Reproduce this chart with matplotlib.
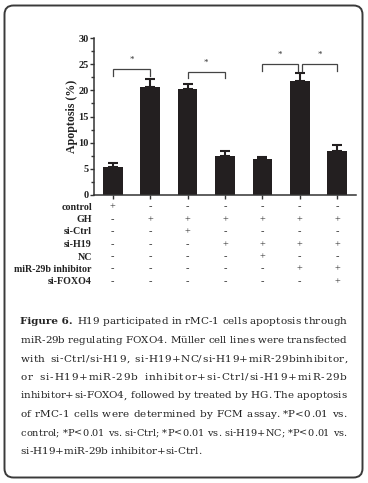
import matplotlib
matplotlib.use("Agg")
import matplotlib.pyplot as plt
from matplotlib.patches import FancyBboxPatch
from matplotlib.transforms import blended_transform_factory
from matplotlib.ticker import MultipleLocator

# ---- data ----
groups = list(range(7))
apoptosis = [5.4, 20.7, 20.3, 7.45, 6.8, 21.7, 8.4]
errors = [0.8, 1.5, 1.0, 0.9, 0.45, 1.7, 1.15]

row_labels = ["control", "GH", "si-Ctrl", "si-H19", "NC", "miR-29b inhibitor", "si-FOXO4"]
control = ["+", "-", "-", "-", "-", "-", "-"]
gh = ["-", "+", "+", "+", "+", "+", "+"]
si_ctrl = ["-", "-", "+", "-", "-", "-", "-"]
si_h19 = ["-", "-", "-", "+", "+", "+", "+"]
nc = ["-", "-", "-", "-", "+", "-", "-"]
mir_inh = ["-", "-", "-", "-", "-", "+", "+"]
si_foxo4 = ["-", "-", "-", "-", "-", "-", "+"]
table_rows = [control, gh, si_ctrl, si_h19, nc, mir_inh, si_foxo4]

# significance brackets: (left bar, right bar, top, drop)
brackets = [(0, 1, 24.0, 22.7), (2, 3, 23.45, 22.3), (4, 5, 25.0, 23.7), (5, 6, 25.0, 23.7)]

caption_title = "Figure 6."
caption_lines = [
    "H19 participated in rMC-1 cells apoptosis through",
    "miR-29b regulating FOXO4. Müller cell lines were transfected",
    "with si-Ctrl/si-H19, si-H19+NC/si-H19+miR-29binhibitor,",
    "or si-H19+miR-29b inhibitor+si-Ctrl/si-H19+miR-29b",
    "inhibitor+si-FOXO4, followed by treated by HG. The apoptosis",
    "of rMC-1 cells were determined by FCM assay. *P<0.01 vs.",
    "control; *P<0.01 vs. si-Ctrl; *P<0.01 vs. si-H19+NC; *P<0.01 vs.",
    "si-H19+miR-29b inhibitor+si-Ctrl.",
]

W, H = 368, 483
fig = plt.figure(figsize=(W / 100, H / 100), dpi=100)
fig.patch.set_facecolor("white")

# overlay in pixel coordinates for the rounded border
bg = fig.add_axes([0, 0, 1, 1])
bg.set_xlim(0, W)
bg.set_ylim(H, 0)
bg.axis("off")
bg.add_patch(FancyBboxPatch((4.5, 5.5), 358, 472,
                            boxstyle="round,pad=0,rounding_size=9",
                            fill=False, edgecolor="#3a3a3a", linewidth=1.4))

serif = "Liberation Serif"
ax = fig.add_axes([94 / W, 1 - 195 / H, (356 - 94) / W, (195 - 38) / H])
ax.patch.set_alpha(0)
ax.bar(groups, apoptosis, width=0.53, color="#231f20", zorder=2)
ax.errorbar(groups, apoptosis, yerr=[[0] * 7, errors], fmt="none", ecolor="#231f20",
            elinewidth=1.5, capsize=3.6, capthick=1.5, zorder=1)
ax.set_xlim(-0.5, 6.5)
ax.set_ylim(0, 30)
ax.yaxis.set_major_locator(MultipleLocator(5))
ax.yaxis.set_minor_locator(MultipleLocator(2.5))
ax.set_xticks(groups)
ax.set_xticklabels([])
for s in ["top", "right"]:
    ax.spines[s].set_visible(False)
for s in ["left", "bottom"]:
    ax.spines[s].set_linewidth(1.1)
    ax.spines[s].set_color("#333333")
ax.tick_params(axis="y", which="major", length=3, width=1, direction="out", pad=1, colors="#333333")
ax.tick_params(axis="y", which="minor", length=2, width=1, direction="out", colors="#333333")
ax.tick_params(axis="x", length=3, width=1, direction="out", colors="#333333")
for lab in ax.get_yticklabels():
    lab.set_fontfamily(serif)
    lab.set_fontweight("bold")
    lab.set_fontsize(7.5)
    lab.set_color("#222222")
fig.text(71.5 / W, 1 - 116.5 / H, "Apoptosis (%)", rotation=90, ha="center", va="center",
         fontfamily=serif, fontweight="bold", fontsize=8.6, color="#222222")

for (a, b, top, drop) in brackets:
    xa = a + (0.05 if a == 5 else 0)
    xb = b - (0.05 if b == 5 else 0)
    ax.plot([xa, xa, xb, xb], [drop, top, top, drop], color="#444444", lw=0.9,
            clip_on=False, solid_joinstyle="miter")
    ax.text((xa + xb) / 2, top + 1.0, "*", ha="center", va="bottom", fontsize=6.5,
            fontfamily=serif, color="#333333")

# condition table
trans = blended_transform_factory(ax.transData, fig.transFigure)
row_y = [207, 219.5, 232, 244.5, 257, 269, 281.5]
for lab, vals, yp in zip(row_labels, table_rows, row_y):
    fig.text(92 / W, 1 - yp / H, lab, ha="right", va="center", fontfamily=serif,
             fontweight="bold", fontsize=7.2, color="#222222")
    for g, v in zip(groups, vals):
        ax.text(g, 1 - yp / H, v, transform=trans, ha="center", va="center",
                fontfamily=serif, fontsize=7.5, color="#333333", clip_on=False)

# caption, justified (extra space shared between letters and word gaps)
cap_font = "DejaVu Serif"
cap_size = 7.5
x_left, x_right = 20.5, 346.5
line_y = [322, 340.5, 359, 377.5, 396, 414.5, 433, 451.5]
renderer = fig.canvas.get_renderer()


def measure(s, weight="normal", size=cap_size):
    t = fig.text(0, 0, s, fontfamily=cap_font, fontsize=size, fontweight=weight)
    w = t.get_window_extent(renderer).width
    t.remove()
    return w


bar_w = measure("|")


def prefix_width(s, size):
    return measure(s + "|", "normal", size) - measure("|", "normal", size)


for i, (s, yp) in enumerate(zip(caption_lines, line_y)):
    yf = 1 - yp / H
    start = x_left
    if i == 0:
        fig.text(x_left / W, yf, caption_title, fontfamily=cap_font, fontsize=cap_size,
                 fontweight="bold", va="center", ha="left", color="#222222")
        start = x_left + measure(caption_title + "|", "bold") - measure("|", "bold") + 4
    last = i == len(caption_lines) - 1
    size = cap_size
    avail = x_right - start
    natural = prefix_width(s, size)
    while natural > avail - 2 and size > 6:
        size -= 0.1
        natural = prefix_width(s, size)
    n_sp = s.count(" ")
    n_ch = len(s) - 1 - n_sp
    e_c = 0 if last else (avail - natural) / (n_ch + 4 * n_sp)
    shift = 0.0
    for k, c in enumerate(s):
        if c != " ":
            x = start + prefix_width(s[:k], size) + shift
            fig.text(x / W, yf, c, fontfamily=cap_font, fontsize=size,
                     va="center", ha="left", color="#222222")
        shift += e_c * (4 if c == " " else 1)

fig.savefig("out.png", dpi=100)
